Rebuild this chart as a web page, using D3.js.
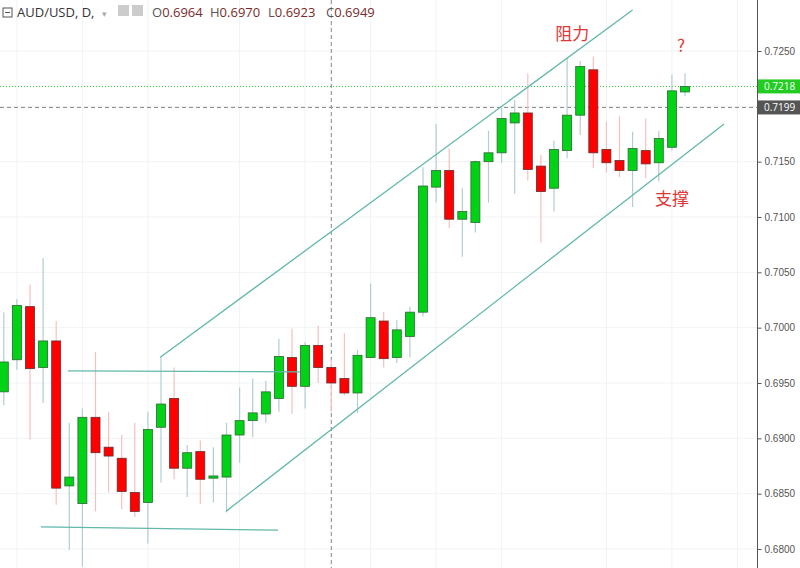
<!DOCTYPE html>
<html><head><meta charset="utf-8">
<script src="https://cdn.jsdelivr.net/npm/d3@7"></script>
<style>body{margin:0;background:#fff}svg{display:block;font-family:"Open Sans","DejaVu Sans",sans-serif}</style>
</head><body><svg id="chart"></svg>
<script>
const W = 800, H = 568;

// daily candles, oldest first
const opens  = [.6942,.6971,.7019,.6964,.6988,.6857,.6841,.6919,.6892,.6882,.6851,.6842,.6910,.6936,.6873,.6888,.6864,.6865,.6903,.6916,.6922,.6936,.6973,.6947,.6984,.6964,.6954,.6941,.6973,.7006,.6973,.6992,.7014,.7127,.7142,.7098,.7095,.7150,.7158,.7185,.7194,.7146,.7126,.7160,.7192,.7233,.7161,.7151,.7142,.7160,.7149,.7163,.7213];
const highs  = [.7014,.7026,.7039,.7063,.7006,.6914,.6927,.6978,.6924,.6903,.6914,.6924,.6973,.6964,.6894,.6898,.6892,.6914,.6946,.6954,.6952,.6990,.6999,.6987,.7002,.6971,.6995,.6980,.7040,.7014,.7007,.7019,.7145,.7184,.7162,.7126,.7151,.7178,.7199,.7206,.7230,.7156,.7169,.7244,.7241,.7245,.7186,.7191,.7177,.7189,.7178,.7229,.7230];
const lows   = [.6930,.6962,.6899,.6932,.6840,.6799,.6784,.6834,.6851,.6836,.6829,.6805,.6860,.6863,.6847,.6841,.6842,.6833,.6878,.6901,.6914,.6924,.6922,.6927,.6950,.6924,.6939,.6923,.6973,.6964,.6968,.6973,.7010,.7113,.7090,.7064,.7086,.7113,.7149,.7121,.7133,.7077,.7105,.7153,.7174,.7144,.7140,.7136,.7109,.7135,.7132,.7160,.7209];
const closes = [.6969,.7020,.6963,.6988,.6855,.6865,.6919,.6887,.6884,.6852,.6834,.6908,.6931,.6873,.6887,.6863,.6866,.6903,.6916,.6923,.6942,.6974,.6947,.6984,.6964,.6950,.6941,.6975,.7009,.6972,.6998,.7014,.7128,.7142,.7098,.7105,.7150,.7158,.7189,.7194,.7143,.7123,.7161,.7192,.7236,.7158,.7149,.7142,.7162,.7148,.7171,.7214,.7218];

const priceTicks = [.6800,.6850,.6900,.6950,.7000,.7050,.7100,.7150,.7200,.7250];
const gridDays = [1,6,11,18,23,28,33,38,46,51,56];

// drawn lines: [index1, price1, index2, price2]
const channelLines = [
  [11.92,.6973,48.0,.7287],
  [16.96,.6834,54.98,.7184],
  [4.9,.6961,22.6,.6960],
  [2.84,.6820,20.93,.6817]
];
const notes = [["阻力",43.4,.7260],["?",51.7,.7249],["支撑",51.0,.7111]];
const lastPrice = .7218, crossPrice = .7199, crossDay = 25;

const svg = d3.select("#chart").attr("width", W).attr("height", H);
const axisX = 757;
const x = d3.scaleLinear().domain([0, 52]).range([3.8, 3.8 + 52 * 13.1]);
const y = d3.scaleLinear().domain([.7250, .6800]).range([51, 549]);

// grid
svg.append("g").selectAll("line").data(priceTicks).join("line")
  .attr("x1", 0).attr("x2", axisX).attr("y1", d => y(d)).attr("y2", d => y(d))
  .attr("stroke", "#f0f3f5");
svg.append("g").selectAll("line").data(gridDays).join("line")
  .attr("x1", d => x(d)).attr("x2", d => x(d)).attr("y1", 0).attr("y2", H)
  .attr("stroke", "#f0f3f5");

// crosshair and price lines
svg.append("line").attr("x1", x(crossDay)).attr("x2", x(crossDay)).attr("y1", 0).attr("y2", H)
  .attr("stroke", "#888").attr("stroke-dasharray", "4,3");
svg.append("line").attr("x1", 0).attr("x2", axisX).attr("y1", y(crossPrice)).attr("y2", y(crossPrice))
  .attr("stroke", "#888").attr("stroke-dasharray", "4,3");
svg.append("line").attr("x1", 0).attr("x2", axisX).attr("y1", y(lastPrice)).attr("y2", y(lastPrice))
  .attr("stroke", "#22cc22").attr("stroke-dasharray", "1,2");

// candles
const idx = d3.range(opens.length);
const up = i => closes[i] >= opens[i];
svg.append("g").selectAll("line").data(idx).join("line")
  .attr("x1", i => x(i)).attr("x2", i => x(i))
  .attr("y1", i => y(highs[i])).attr("y2", i => y(lows[i]))
  .attr("stroke", i => up(i) ? "#b4cdd2" : "#f4c0c0").attr("stroke-width", 1.2);
svg.append("g").selectAll("rect").data(idx).join("rect")
  .attr("x", i => x(i) - 4.5).attr("width", 9)
  .attr("y", i => y(Math.max(opens[i], closes[i])))
  .attr("height", i => Math.max(1, Math.abs(y(opens[i]) - y(closes[i]))))
  .attr("fill", i => up(i) ? "#00d315" : "#ff0000")
  .attr("stroke", i => up(i) ? "#2a6a34" : "#6a2a2a").attr("stroke-width", 0.8);

// trend lines
svg.append("g").selectAll("line").data(channelLines).join("line")
  .attr("x1", d => x(d[0])).attr("y1", d => y(d[1]))
  .attr("x2", d => x(d[2])).attr("y2", d => y(d[3]))
  .attr("stroke", "#62b8aa").attr("stroke-width", 1.3);

svg.append("g").selectAll("text").data(notes).join("text")
  .attr("x", d => x(d[1])).attr("y", d => y(d[2]))
  .attr("text-anchor", "middle").attr("fill", "#e03838").attr("font-size", 17)
  .attr("font-family", "Noto Sans CJK SC")
  .text(d => d[0]);

// right price axis
svg.append("rect").attr("x", axisX).attr("y", 0).attr("width", W - axisX).attr("height", H).attr("fill", "#fff");
svg.append("line").attr("x1", axisX + .5).attr("x2", axisX + .5).attr("y1", 0).attr("y2", H).attr("stroke", "#555");
const axis = d3.axisRight(y).tickValues(priceTicks).tickFormat(d3.format(".4f")).tickSize(4);
const ag = svg.append("g").attr("transform", `translate(${axisX + .5},0)`).call(axis);
ag.select(".domain").remove();
ag.selectAll("line").attr("stroke", "#555");
ag.selectAll("text").attr("fill", "#555").attr("font-size", 10).attr("x", 7)
  .filter(d => Math.abs(y(d) - y(crossPrice)) < 14 || Math.abs(y(d) - y(lastPrice)) < 14).remove();

[[lastPrice, "#22cc22"], [crossPrice, "#555"]].forEach(([p, c]) => {
  svg.append("rect").attr("x", axisX + 1).attr("y", y(p) - 7).attr("width", 43).attr("height", 14).attr("fill", c);
  svg.append("text").attr("x", axisX + 7).attr("y", y(p) + 4).attr("fill", "#fff").attr("font-size", 10)
    .text(d3.format(".4f")(p));
});

// header
const hd = svg.append("g").attr("font-size", 13);
hd.append("rect").attr("x", 3).attr("y", 8).attr("width", 9).attr("height", 9).attr("fill", "none").attr("stroke", "#555");
hd.append("line").attr("x1", 5).attr("x2", 10).attr("y1", 12.5).attr("y2", 12.5).attr("stroke", "#555");
hd.append("text").attr("x", 17).attr("y", 17).attr("fill", "#333").text("AUD/USD, D,");
hd.append("text").attr("x", 102).attr("y", 17).attr("fill", "#aaa").attr("font-size", 9).text("▾");
hd.append("rect").attr("x", 118).attr("y", 5).attr("width", 11).attr("height", 11).attr("fill", "#ccc");
hd.append("rect").attr("x", 132).attr("y", 5).attr("width", 11).attr("height", 11).attr("fill", "#ccc");
const ohlc = [["O", "0.6964"], ["H", "0.6970"], ["L", "0.6923"], ["C", "0.6949"]];
ohlc.forEach(([k, v], i) => {
  const t = hd.append("text").attr("x", 152 + i * 58).attr("y", 17);
  t.append("tspan").attr("fill", "#555").text(k);
  t.append("tspan").attr("fill", "#7a2a2a").text(v);
});
</script></body></html>
